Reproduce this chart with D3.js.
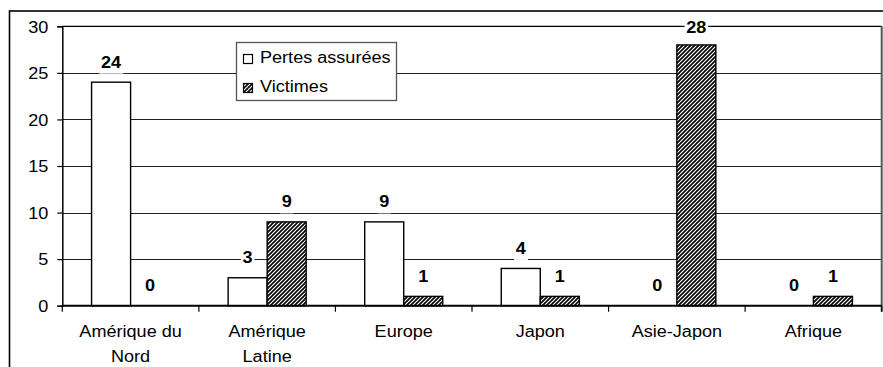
<!DOCTYPE html>
<html>
<head>
<meta charset="utf-8">
<script src="https://cdn.jsdelivr.net/npm/d3@7"></script>
<style>
  html, body { margin: 0; padding: 0; background: #fff; }
  svg { display: block; }
  text { font-family: Arial, "Liberation Sans", sans-serif; font-size: 16px; fill: #000; }
</style>
</head>
<body>
<svg id="chart" width="883" height="367"></svg>
<script>
// Regions and the two series plotted for each
const categories = ["Amérique du Nord", "Amérique Latine", "Europe", "Japon", "Asie-Japon", "Afrique"];
const seriesNames = ["Pertes assurées", "Victimes"];
const pertesAssurees = [24, 3, 9, 4, 0, 0];
const victimes = [0, 9, 1, 1, 28, 1];
const yTicks = [0, 5, 10, 15, 20, 25, 30];

const W = 883, H = 367;
const plot = { left: 62.3, right: 881.7, top: 26.3, bottom: 305.7 };
const SX = 1.13; // horizontal text stretch

const svg = d3.select("#chart");

// Diagonal hatch for the second series
const defs = svg.append("defs");
const pat = defs.append("pattern")
  .attr("id", "hatch")
  .attr("patternUnits", "userSpaceOnUse")
  .attr("width", 4).attr("height", 4);
pat.append("rect").attr("width", 4).attr("height", 4).attr("fill", "#fff");
pat.append("path")
  .attr("d", "M-1,1 l2,-2 M0,4 l4,-4 M3,5 l2,-2")
  .attr("stroke", "#000").attr("stroke-width", 1.6);

// Outer frame (extends past the right and bottom edges)
svg.append("rect")
  .attr("x", 9.5).attr("y", 11).attr("width", 1000).attr("height", 1000)
  .attr("fill", "none").attr("stroke", "#000").attr("stroke-width", 1.6);

const y = d3.scaleLinear().domain([0, 30]).range([plot.bottom, plot.top]);
const x0 = d3.scaleBand().domain(categories).range([plot.left, plot.right]).paddingInner(0).paddingOuter(0);
const x1 = d3.scaleBand().domain(seriesNames).range([0, x0.bandwidth()]).paddingInner(0).paddingOuter(0.75);

// Horizontal gridlines
svg.append("g").selectAll("line")
  .data(yTicks.filter(t => t > 0 && t < 30))
  .join("line")
  .attr("x1", plot.left).attr("x2", plot.right)
  .attr("y1", d => Math.round(y(d)) + 0.5).attr("y2", d => Math.round(y(d)) + 0.5)
  .attr("stroke", "#222").attr("stroke-width", 1);

// Plot area border (top and right)
svg.append("line")
  .attr("x1", plot.left).attr("x2", plot.right)
  .attr("y1", plot.top).attr("y2", plot.top)
  .attr("stroke", "#000").attr("stroke-width", 1.3);
svg.append("line")
  .attr("x1", plot.right).attr("x2", plot.right)
  .attr("y1", plot.top).attr("y2", plot.bottom + 6)
  .attr("stroke", "#555").attr("stroke-width", 2);

// Y axis
const yAxis = d3.axisLeft(y).tickValues(yTicks).tickSize(5).tickPadding(9);
const gy = svg.append("g").attr("transform", `translate(${plot.left},0)`).call(yAxis);
gy.select(".domain").attr("stroke", "#000").attr("stroke-width", 1.5);
gy.selectAll(".tick line").attr("stroke", "#000").attr("stroke-width", 1.2);
gy.selectAll(".tick text")
  .attr("font-family", null).attr("font-size", null)
  .attr("x", null).attr("dy", null)
  .attr("text-anchor", "end")
  .attr("transform", `translate(-14,5.8) scale(${SX},1)`);

// Bars
const series = [pertesAssurees, victimes];
const bars = [];
categories.forEach((c, i) => {
  seriesNames.forEach((s, j) => {
    bars.push({ cat: c, name: s, value: series[j][i], idx: j });
  });
});

svg.append("g").selectAll("rect")
  .data(bars)
  .join("rect")
  .attr("x", d => x0(d.cat) + x1(d.name))
  .attr("y", d => y(d.value))
  .attr("width", x1.bandwidth())
  .attr("height", d => y(0) - y(d.value))
  .attr("fill", d => d.idx === 0 ? "#fff" : "url(#hatch)")
  .attr("stroke", "#000").attr("stroke-width", 1.4);

// X axis
const xAxisLine = svg.append("g");
xAxisLine.append("line")
  .attr("x1", plot.left).attr("x2", plot.right)
  .attr("y1", plot.bottom).attr("y2", plot.bottom)
  .attr("stroke", "#000").attr("stroke-width", 2);
xAxisLine.selectAll("line.tick")
  .data(d3.range(categories.length + 1))
  .join("line").attr("class", "tick")
  .attr("x1", k => plot.left + k * x0.step()).attr("x2", k => plot.left + k * x0.step())
  .attr("y1", plot.bottom).attr("y2", plot.bottom + 6)
  .attr("stroke", "#000").attr("stroke-width", 1.2);

// Category labels, word-wrapped
const maxLabelWidth = 110;
const catG = svg.append("g");
categories.forEach(c => {
  const cx = x0(c) + x0.bandwidth() / 2;
  const words = c.split(" ");
  const lines = [];
  let cur = "";
  const probe = svg.append("text").attr("visibility", "hidden");
  words.forEach(w => {
    const test = cur ? cur + " " + w : w;
    probe.text(test);
    if (cur && probe.node().getComputedTextLength() * SX > maxLabelWidth) {
      lines.push(cur);
      cur = w;
    } else {
      cur = test;
    }
  });
  lines.push(cur);
  probe.remove();
  lines.forEach((ln, k) => {
    catG.append("text")
      .attr("text-anchor", "middle")
      .attr("transform", `translate(${cx},${337 + k * 24.7}) scale(${SX},1)`)
      .text(ln);
  });
});

// Value labels with white backing
const lblG = svg.append("g");
bars.forEach(d => {
  const cx = x0(d.cat) + x1(d.name) + x1.bandwidth() / 2;
  const base = Math.max(y(d.value) - 14.5, plot.top + 6.5);
  const g = lblG.append("g").attr("transform", `translate(${cx},${base}) scale(${SX},1)`);
  const bg = g.append("rect").attr("fill", "#fff");
  const t = g.append("text")
    .attr("text-anchor", "middle")
    .attr("font-weight", "bold")
    .text(d.value);
  const bb = t.node().getBBox();
  bg.attr("x", bb.x - 1.5).attr("y", -13).attr("width", bb.width + 3).attr("height", 19);
});

// Legend
const leg = svg.append("g");
leg.append("rect")
  .attr("x", 236.5).attr("y", 42.5).attr("width", 160).attr("height", 58)
  .attr("fill", "#fff").attr("stroke", "#555").attr("stroke-width", 1.3);
seriesNames.forEach((s, j) => {
  const rowY = 54 + j * 29;
  leg.append("rect")
    .attr("x", 243.5).attr("y", rowY + 0.5).attr("width", 9).attr("height", 9)
    .attr("fill", j === 0 ? "#fff" : "url(#hatch)")
    .attr("stroke", "#000").attr("stroke-width", 1.2);
  leg.append("text")
    .attr("transform", `translate(260,${rowY + 9.3}) scale(${SX},1)`)
    .text(s);
});
</script>
</body>
</html>
